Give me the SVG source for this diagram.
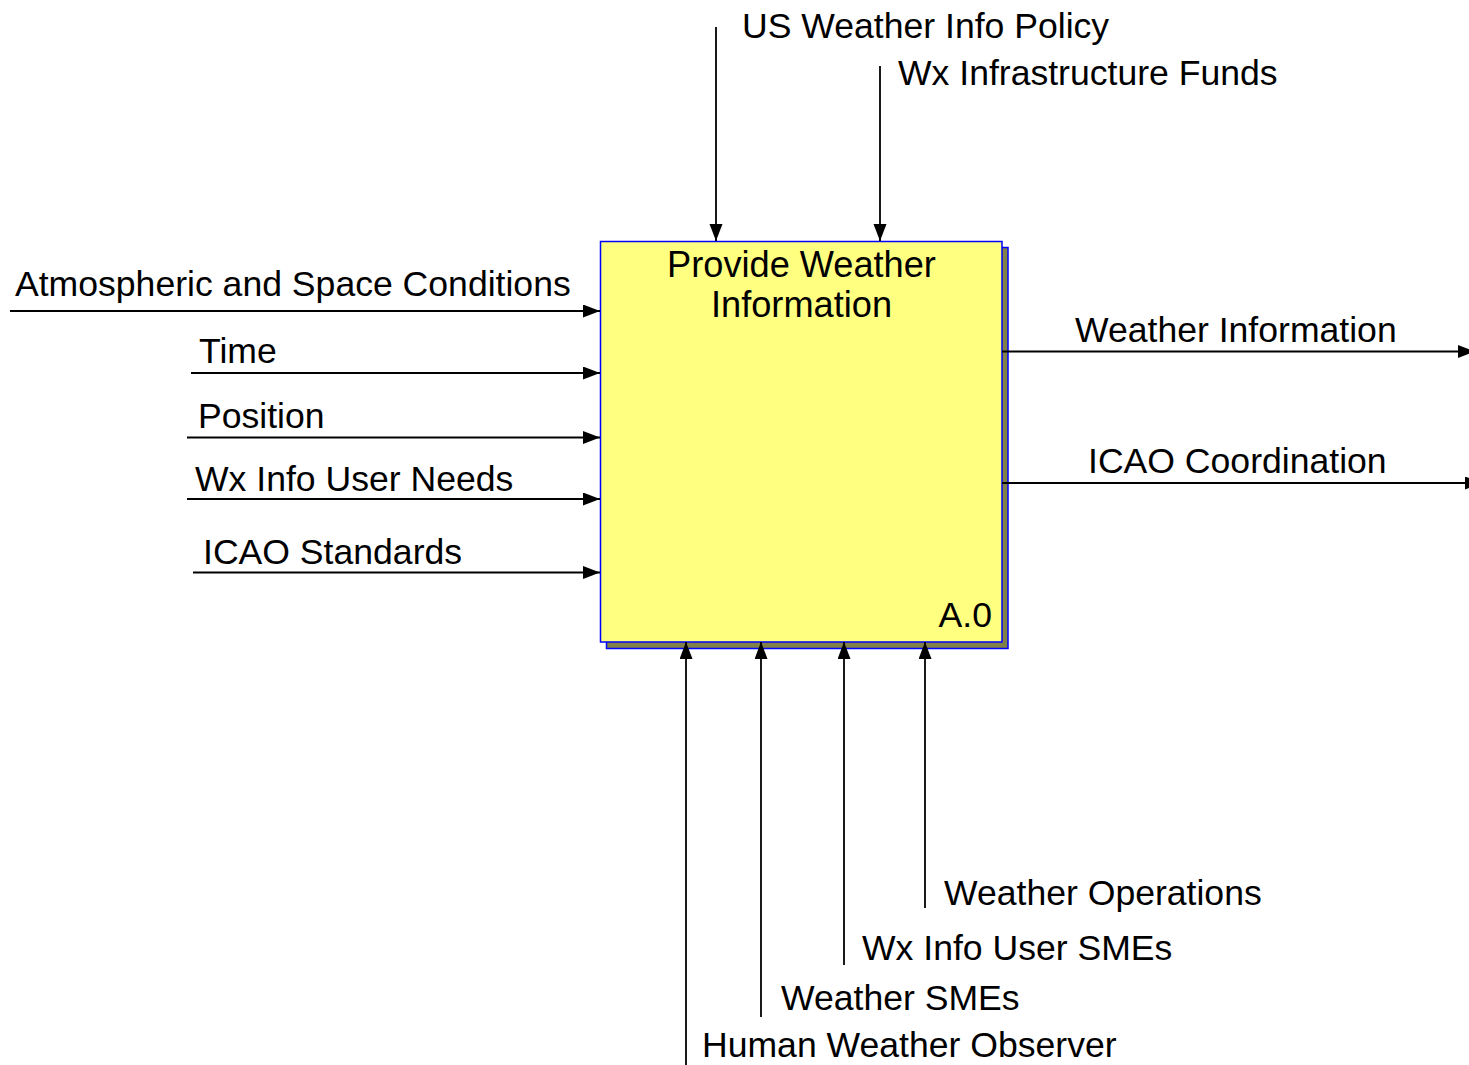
<svg xmlns="http://www.w3.org/2000/svg" width="1469" height="1065" viewBox="0 0 1469 1065">
<defs>
<style>
text{font-family:"Liberation Sans",Arial,sans-serif;font-size:35.6px;fill:#000}
.t{font-size:36.2px}
.ln{stroke:#000;stroke-width:1.8;fill:none}
</style>
<marker id="ah" markerUnits="userSpaceOnUse" markerWidth="18" markerHeight="14" refX="17" refY="6.5" orient="auto">
<path d="M0,0 L17,6.5 L0,13 z" fill="#000"/>
</marker>
</defs>
<rect width="1469" height="1065" fill="#fff"/>
<g id="A0">
<rect x="606.5" y="247.5" width="401.5" height="401" fill="#808048" stroke="#0000ff" stroke-width="1.5"/>
<rect x="600.5" y="241.5" width="401.5" height="400.5" fill="#ffff80" stroke="#0000ff" stroke-width="1.5"/>
<text class="t" x="801.5" y="277" text-anchor="middle">Provide Weather</text>
<text class="t" x="801.5" y="317" text-anchor="middle">Information</text>
<text x="992" y="627" text-anchor="end">A.0</text>
</g>
<g id="connectors">
<line class="ln" x1="716" y1="27" x2="716" y2="241" marker-end="url(#ah)"/>
<line class="ln" x1="880" y1="66" x2="880" y2="241" marker-end="url(#ah)"/>
<line class="ln" x1="10" y1="311" x2="600" y2="311" marker-end="url(#ah)"/>
<line class="ln" x1="191" y1="373" x2="600" y2="373" marker-end="url(#ah)"/>
<line class="ln" x1="187" y1="437.5" x2="600" y2="437.5" marker-end="url(#ah)"/>
<line class="ln" x1="187" y1="499" x2="600" y2="499" marker-end="url(#ah)"/>
<line class="ln" x1="193" y1="572.5" x2="600" y2="572.5" marker-end="url(#ah)"/>
<line class="ln" x1="1002" y1="351.5" x2="1475" y2="351.5" marker-end="url(#ah)"/>
<line class="ln" x1="1002" y1="483" x2="1482" y2="483" marker-end="url(#ah)"/>
<line class="ln" x1="686" y1="1065" x2="686" y2="642" marker-end="url(#ah)"/>
<line class="ln" x1="761" y1="1017" x2="761" y2="642" marker-end="url(#ah)"/>
<line class="ln" x1="844" y1="965" x2="844" y2="642" marker-end="url(#ah)"/>
<line class="ln" x1="925" y1="908" x2="925" y2="642" marker-end="url(#ah)"/>
</g>
<g id="labels">
<text x="742" y="38">US Weather Info Policy</text>
<text x="898" y="85">Wx Infrastructure Funds</text>
<text x="15" y="296">Atmospheric and Space Conditions</text>
<text x="199" y="363">Time</text>
<text x="198" y="428">Position</text>
<text x="195" y="491">Wx Info User Needs</text>
<text x="203" y="564">ICAO Standards</text>
<text x="1075" y="342">Weather Information</text>
<text x="1088" y="473">ICAO Coordination</text>
<text x="944" y="905">Weather Operations</text>
<text x="862" y="960">Wx Info User SMEs</text>
<text x="781" y="1010">Weather SMEs</text>
<text x="702" y="1057">Human Weather Observer</text>
</g>
</svg>
